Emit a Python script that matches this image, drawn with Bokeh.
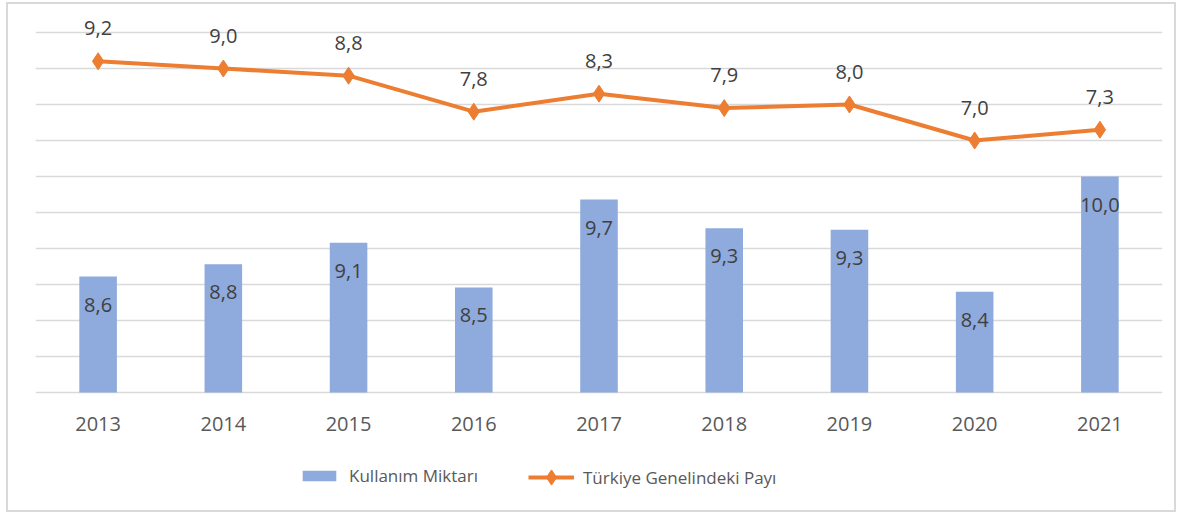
from bokeh.plotting import figure
from bokeh.models import ColumnDataSource, Range1d, FixedTicker, Grid, Legend, LegendItem
from bokeh.core.properties import value
from bokeh.embed import file_html
from bokeh.resources import INLINE

years = ["2013", "2014", "2015", "2016", "2017", "2018", "2019", "2020", "2021"]
kullanim_miktari = [8.61, 8.78, 9.08, 8.46, 9.68, 9.28, 9.26, 8.40, 10.0]
turkiye_payi = [9.2, 9.0, 8.8, 7.8, 8.3, 7.9, 8.0, 7.0, 7.3]
bar_name = "Kullanım Miktarı"
line_name = "Türkiye Genelindeki Payı"

def fmt(v):
    return f"{v:.1f}".replace(".", ",")

src = ColumnDataSource(dict(
    x=years,
    bar=kullanim_miktari,
    bar_lbl=[fmt(v) for v in kullanim_miktari],
    line=turkiye_payi,
    line_lbl=[fmt(v) for v in turkiye_payi],
))

FONT = "Open Sans"
W, H = 1170, 510
TOP, BASE, BOTTOM = 14, 388, 508   # canvas pixels: frame top, zero line, frame bottom
PX_LINE, PX_BAR = 36.0, 72.0
p = figure(x_range=years,
           y_range=Range1d(-(BOTTOM - BASE) / PX_LINE, (BASE - TOP) / PX_LINE),
           width=W, height=H, output_backend="svg", toolbar_location=None,
           y_axis_location=None,
           min_border_left=27, min_border_right=16, min_border_top=TOP,
           min_border_bottom=H - BOTTOM)
p.extra_y_ranges = {"bar": Range1d(7 - (BOTTOM - BASE) / PX_BAR, 7 + (BASE - TOP) / PX_BAR)}
p.outline_line_color = None
p.background_fill_color = "white"
p.border_fill_color = "white"
p.styles = {"border": "2px solid #d9d9d9", "margin-left": "6px", "margin-top": "2px"}

p.xgrid.visible = False
p.ygrid.visible = False
p.add_layout(Grid(dimension=1, ticker=FixedTicker(ticks=list(range(0, 11))),
                  grid_line_color="#d9d9d9", grid_line_width=1.5))

xa = p.xaxis[0]
xa.fixed_location = 0
xa.axis_line_color = None
xa.major_tick_line_color = None
xa.minor_tick_line_color = None
xa.major_label_text_font = FONT
xa.major_label_text_font_size = "20px"
xa.major_label_text_color = "#595959"
xa.major_label_standoff = 18

bars = p.vbar(x="x", top="bar", bottom=7, width=0.3, source=src, y_range_name="bar",
              fill_color="#8faadc", line_color=None)
p.text(x="x", y="bar", text="bar_lbl", source=src, y_range_name="bar",
       text_font=value(FONT), text_font_size="20px", text_color="#404040",
       text_align="center", text_baseline="middle", y_offset=28)

ln = p.line(x="x", y="line", source=src, line_color="#ed7d31", line_width=4)
mk = p.scatter(x="x", y="line", source=src, marker="diamond", size=17,
               fill_color="#ed7d31", line_color="#ed7d31")
p.text(x="x", y="line", text="line_lbl", source=src,
       text_font=value(FONT), text_font_size="20px", text_color="#404040",
       text_align="center", text_baseline="middle", y_offset=-33)

leg1 = Legend(items=[LegendItem(label=bar_name, renderers=[bars])],
              location=(263, 25), orientation="horizontal",
              glyph_width=42, glyph_height=13, label_standoff=9,
              label_text_font=FONT, label_text_font_size="17px", label_text_color="#595959",
              padding=0, margin=0, border_line_color=None, background_fill_alpha=0)
leg2 = Legend(items=[LegendItem(label=line_name, renderers=[ln, mk])],
              location=(493, 16), orientation="horizontal",
              glyph_width=46, glyph_height=38, label_height=38, label_standoff=9,
              label_text_font=FONT, label_text_font_size="17px", label_text_color="#595959",
              padding=0, margin=0, border_line_color=None, background_fill_alpha=0)
p.add_layout(leg1, "center")
p.add_layout(leg2, "center")

open("out.html", "w").write(file_html(p, INLINE))
